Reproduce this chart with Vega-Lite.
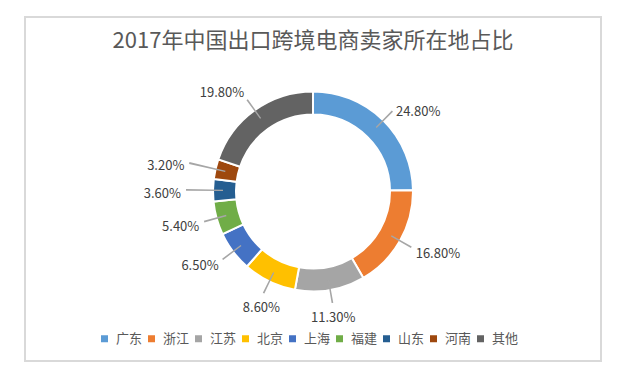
{
  "$schema": "https://vega.github.io/schema/vega-lite/v6.json",
  "width": 576,
  "height": 344,
  "autosize": {"type": "none"},
  "padding": {"left": 25, "top": 17, "right": 33, "bottom": 8},
  "background": "white",
  "config": {
    "view": {"stroke": null},
    "font": "Noto Sans CJK SC"
  },
  "title": {
    "text": "2017年中国出口跨境电商卖家所在地占比",
    "fontSize": 22,
    "fontWeight": "normal",
    "color": "#595959",
    "anchor": "middle",
    "font": "Noto Sans CJK SC",
    "offset": -37
  },
  "data": {
    "values": [
      {"region": "广东", "share": 0.248, "rank": 1},
      {"region": "浙江", "share": 0.168, "rank": 2},
      {"region": "江苏", "share": 0.113, "rank": 3},
      {"region": "北京", "share": 0.086, "rank": 4},
      {"region": "上海", "share": 0.065, "rank": 5},
      {"region": "福建", "share": 0.054, "rank": 6},
      {"region": "山东", "share": 0.036, "rank": 7},
      {"region": "河南", "share": 0.032, "rank": 8},
      {"region": "其他", "share": 0.198, "rank": 9}
    ]
  },
  "transform": [
    {"window": [{"op": "sum", "field": "share", "as": "cum"}], "sort": [{"field": "rank"}], "frame": [null, 0]},
    {"calculate": "datum.cum - datum.share/2", "as": "mid"},
    {"calculate": "datum.mid - 0.0012", "as": "lead1"},
    {"calculate": "datum.mid + 0.0012", "as": "lead2"},
    {"calculate": "datum.share < 0.04 ? 132 : 118", "as": "rad"},
    {"calculate": "datum.share < 0.04 ? 127 : 113", "as": "leadR"}
  ],
  "layer": [
    {
      "transform": [{"filter": "datum.rank == 1"}],
      "mark": {"type": "rect", "fill": "transparent", "stroke": "#d9d9d9", "strokeWidth": 2},
      "encoding": {
        "x": {"value": 0},
        "x2": {"value": "width"},
        "y": {"value": 0},
        "y2": {"value": "height"}
      }
    },
    {
      "mark": {"type": "arc", "innerRadius": 77, "outerRadius": 100, "stroke": "white", "strokeWidth": 2, "y": {"expr": "height/2+2.5"}},
      "encoding": {
        "theta": {"field": "share", "type": "quantitative", "stack": true, "scale": {"domain": [0, 1]}},
        "order": {"field": "rank", "type": "quantitative"},
        "color": {
          "field": "region",
          "type": "nominal",
          "sort": null,
          "scale": {
            "domain": ["广东", "浙江", "江苏", "北京", "上海", "福建", "山东", "河南", "其他"],
            "range": ["#5B9BD5", "#ED7D31", "#A5A5A5", "#FFC000", "#4472C4", "#70AD47", "#255E91", "#9E480E", "#636363"]
          },
          "legend": {
            "orient": "none",
            "legendX": 73,
            "legendY": 315,
            "direction": "horizontal",
            "title": null,
            "symbolType": "square",
            "symbolSize": 49,
            "symbolStrokeWidth": 0,
            "labelFontSize": 13,
            "labelFont": "Noto Sans CJK SC",
            "labelColor": "#595959",
            "columnPadding": 2,
            "labelOffset": 5
          }
        }
      }
    },
    {
      "mark": {"type": "arc", "innerRadius": 90, "color": "#A6A6A6", "y": {"expr": "height/2+2.5"}},
      "encoding": {
        "theta": {"field": "lead1", "type": "quantitative", "stack": false, "scale": {"domain": [0, 1]}},
        "theta2": {"field": "lead2"},
        "radius": {"field": "leadR", "type": "quantitative", "scale": null}
      }
    },
    {
      "mark": {
        "type": "text",
        "fontSize": 13,
        "color": "#404040",
        "font": "Noto Sans CJK SC",
        "dy": 4,
        "y": {"expr": "height/2+2.5"},
        "align": {"expr": "sin(2*PI*datum.mid) > 0.5 ? 'left' : (sin(2*PI*datum.mid) < -0.5 ? 'right' : 'center')"},
        "baseline": {"expr": "cos(2*PI*datum.mid) > 0.8 ? 'bottom' : (cos(2*PI*datum.mid) < -0.8 ? 'top' : 'middle')"}
      },
      "encoding": {
        "theta": {"field": "mid", "type": "quantitative", "stack": false, "scale": {"domain": [0, 1]}},
        "radius": {"field": "rad", "type": "quantitative", "scale": null},
        "text": {"field": "share", "type": "quantitative", "format": ".2%"}
      }
    }
  ]
}
